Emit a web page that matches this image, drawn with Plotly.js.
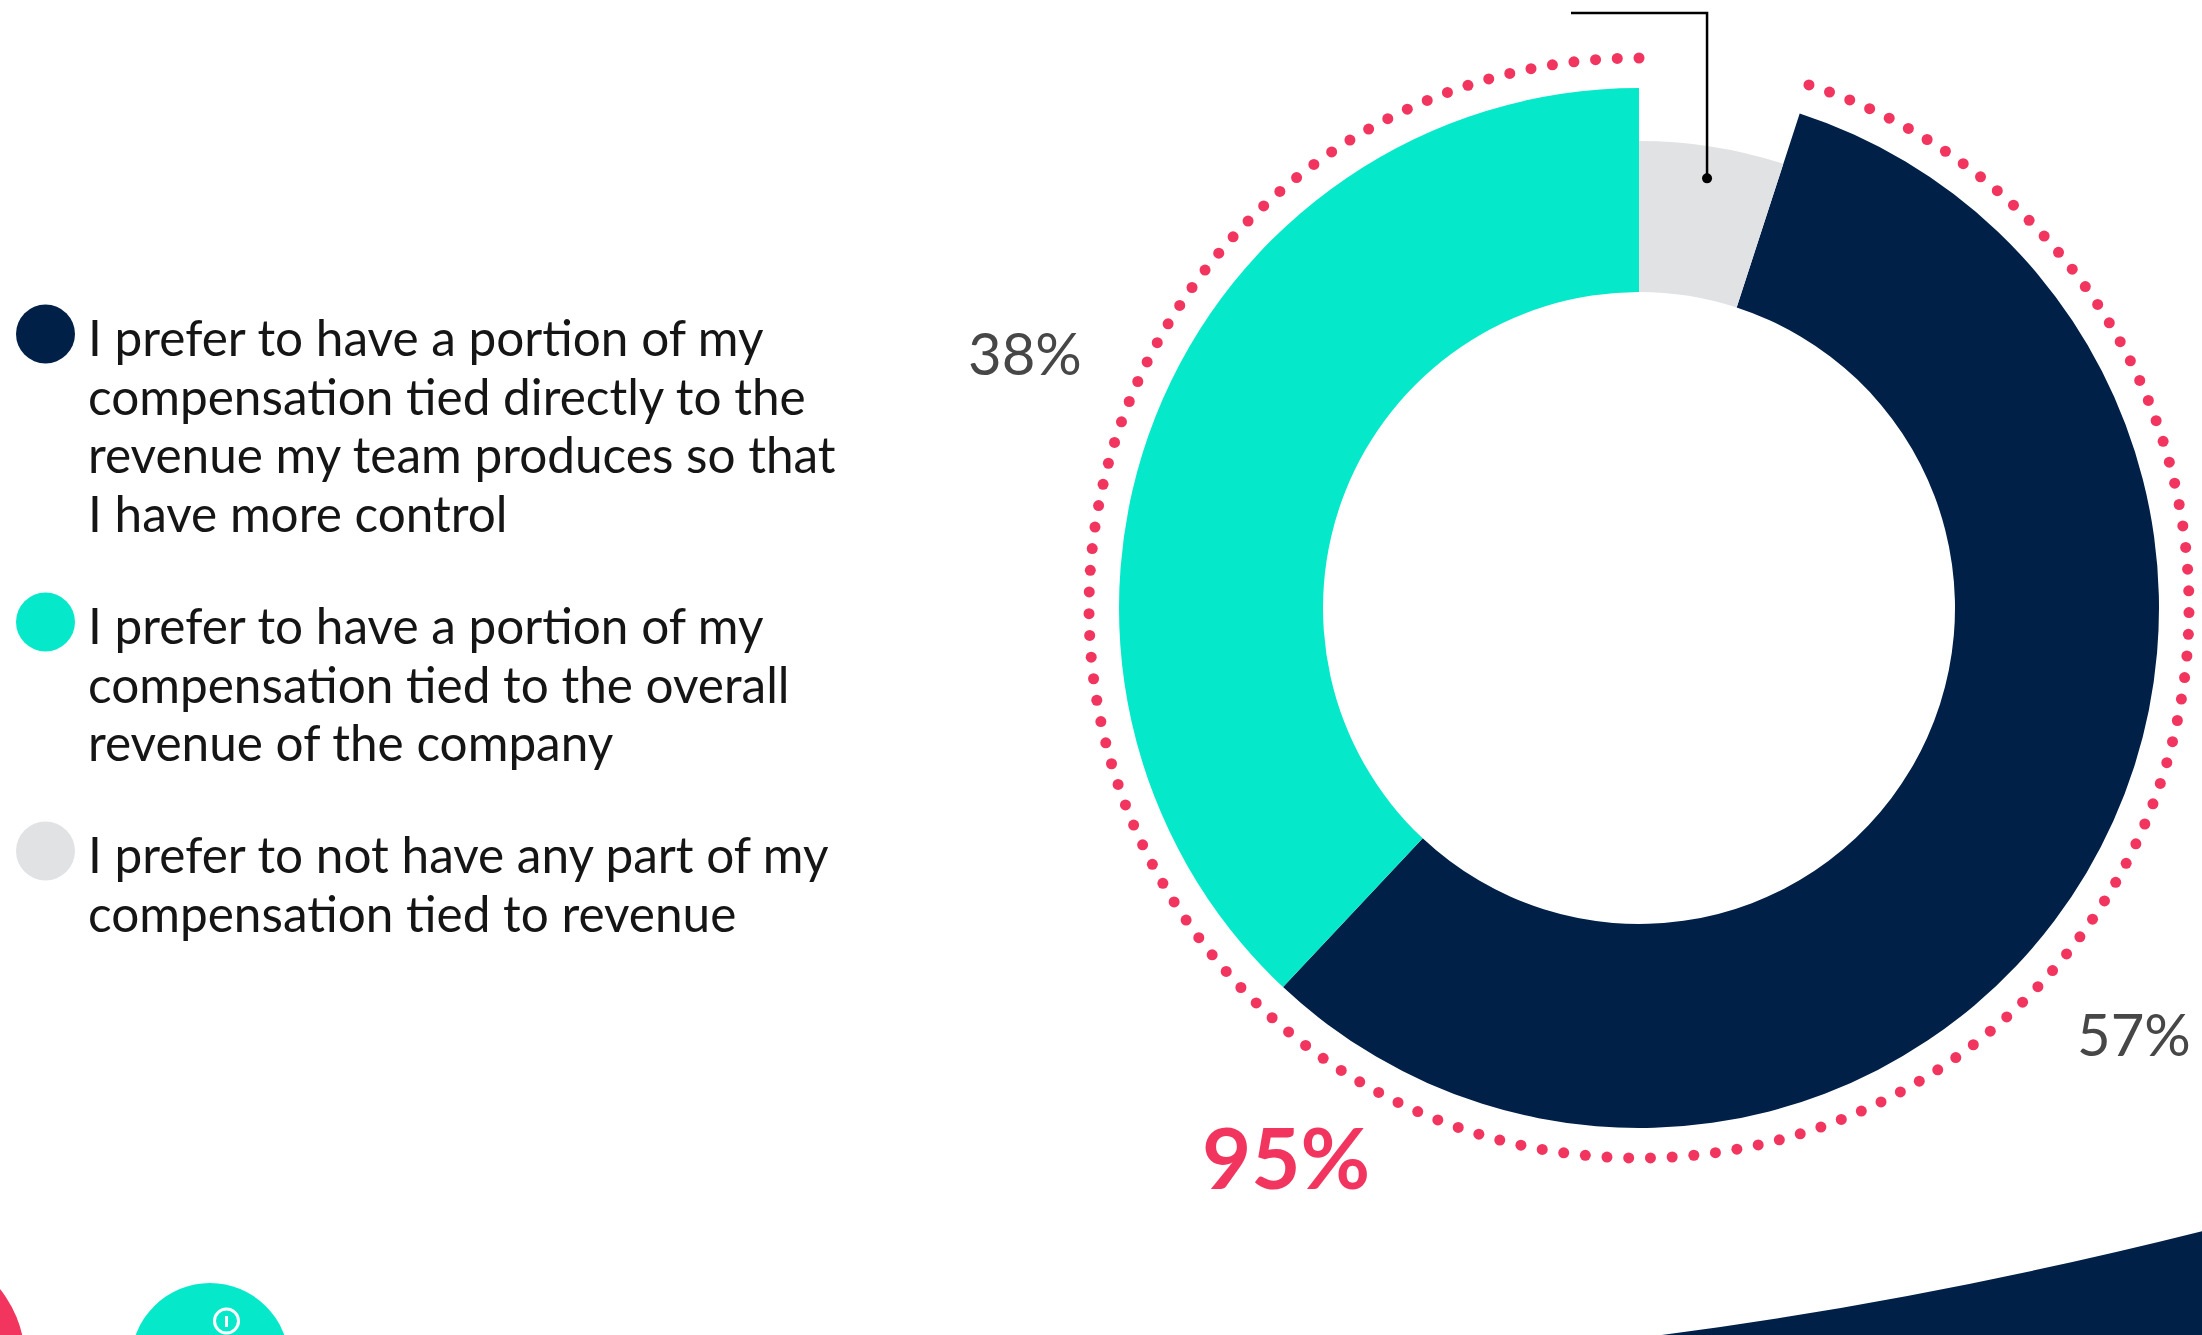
<!DOCTYPE html>
<html>
<head>
<meta charset="utf-8">
<script src="https://cdn.plot.ly/plotly-3.0.1.min.js"></script>
<style>
  html, body { margin: 0; padding: 0; background: #ffffff; }
  #chart { width: 2202px; height: 1335px; }
</style>
</head>
<body>
<div id="chart"></div>
<script>
// ---------------- data ----------------
const categories = [
  "I prefer to not have any part of my compensation tied to revenue",
  "I prefer to have a portion of my compensation tied directly to the revenue my team produces so that I have more control",
  "I prefer to have a portion of my compensation tied to the overall revenue of the company"
];
const shortNames = ["No revenue tie", "Tied to team revenue", "Tied to company revenue"];
const values = [5, 57, 38];
const sliceColors = ["#E1E2E4", "#002048", "#05E9CA"];
// legend text, wrapped as in the reference (order: navy, teal, gray)
const legendOrder = [1, 2, 0];
const legendLines = [
  ["I prefer to have a portion of my", "compensation tied directly to the", "revenue my team produces so that", "I have more control"],
  ["I prefer to have a portion of my", "compensation tied to the overall", "revenue of the company"],
  ["I prefer to not have any part of my", "compensation tied to revenue"]
];

// ---------------- geometry / style ----------------
const W = 2202, H = 1335;
const cx = 1639, cy = 608;
const rOuter = 520, rInner = 316, rGray = 467, rDots = 550, rLeader = 435;
const pink = "#F2355F";
const total = values.reduce((a, b) => a + b, 0);

function domX(r) { return [(cx - r) / W, (cx + r) / W]; }
function domY(r) { return [(H - cy - r) / H, (H - cy + r) / H]; }

const traces = [];

// main ring (navy + teal), gray slot left empty
traces.push({
  type: "pie",
  labels: shortNames,
  values: values,
  marker: { colors: sliceColors.map((c, i) => i === 0 ? "rgba(0,0,0,0)" : c), line: { width: 0 } },
  hole: rInner / rOuter,
  sort: false,
  direction: "clockwise",
  rotation: 0,
  textinfo: "none",
  hoverinfo: "label+percent",
  showlegend: false,
  domain: { x: domX(rOuter), y: domY(rOuter) }
});
// shorter gray slice
traces.push({
  type: "pie",
  labels: shortNames,
  values: values,
  marker: { colors: sliceColors.map((c, i) => i === 0 ? c : "rgba(0,0,0,0)"), line: { width: 0 } },
  hole: rInner / rGray,
  sort: false,
  direction: "clockwise",
  rotation: 0,
  textinfo: "none",
  hoverinfo: "skip",
  showlegend: false,
  domain: { x: domX(rGray), y: domY(rGray) }
});

// dotted arc around the 95% (navy + teal)
const startDeg = values[0] / total * 360;
const dotStepPx = 21.7;
const nDots = Math.round((360 - startDeg) * Math.PI / 180 * rDots / dotStepPx) + 1;
const dotTheta = [], dotR = [];
for (let i = 0; i < nDots; i++) {
  dotTheta.push(startDeg + (360 - startDeg) * i / (nDots - 1));
  dotR.push(rDots);
}
traces.push({
  type: "scatterpolar",
  subplot: "polar",
  r: dotR,
  theta: dotTheta,
  mode: "markers",
  marker: { size: 11, color: pink },
  hoverinfo: "skip",
  showlegend: false,
  cliponaxis: false
});

// invisible anchor trace for the pixel-space cartesian axes
traces.push({
  type: "scatter", x: [0, W], y: [0, H], mode: "markers",
  marker: { opacity: 0 }, hoverinfo: "skip", showlegend: false
});

// ---------------- shapes / annotations ----------------
const shapes = [];
const annotations = [];

// leader line to the gray slice (drawn above the pie)
const midA = (values[0] / 2 / total) * 2 * Math.PI;
const lx = cx + rLeader * Math.sin(midA);
const ly = cy - rLeader * Math.cos(midA);
shapes.push({
  type: "path", xref: "x", yref: "y", layer: "above",
  path: `M 1571 13 L ${lx} 13 L ${lx} ${ly}`,
  line: { color: "#000000", width: 2.5 }
});
shapes.push({
  type: "circle", xref: "x", yref: "y", layer: "above",
  x0: lx - 5, x1: lx + 5, y0: ly - 5, y1: ly + 5,
  fillcolor: "#000000", line: { width: 0 }
});

// legend
const legendCircleY = [334, 622, 851];
const legendLineY = [[337, 396, 454, 513], [625, 684, 742], [854, 913]];
legendOrder.forEach((idx, k) => {
  shapes.push({
    type: "circle", xref: "x", yref: "y",
    x0: 45.5 - 29.5, x1: 45.5 + 29.5, y0: legendCircleY[k] - 29.5, y1: legendCircleY[k] + 29.5,
    fillcolor: sliceColors[idx], line: { width: 0 }
  });
  legendLines[k].forEach((t, j) => {
    annotations.push({
      xref: "x", yref: "y", x: 86, y: legendLineY[k][j],
      xanchor: "left", yanchor: "middle", showarrow: false,
      text: t, font: { family: "Lato, 'Noto Sans', sans-serif", size: 49.5, color: "#151515" }
    });
  });
});

// percentage labels
const pctFont = { family: "Lato, 'Noto Sans', sans-serif", size: 58, color: "#474747" };
annotations.push({ xref: "x", yref: "y", x: 1025, y: 352, xanchor: "center", yanchor: "middle", showarrow: false,
  text: values[2] + "%", font: pctFont });
annotations.push({ xref: "x", yref: "y", x: 2134, y: 1033, xanchor: "center", yanchor: "middle", showarrow: false,
  text: values[1] + "%", font: pctFont });
annotations.push({ xref: "x", yref: "y", x: 1286, y: 1156, xanchor: "center", yanchor: "middle", showarrow: false,
  text: "<b>" + (values[1] + values[2]) + "%</b>",
  font: { family: "Lato, 'Noto Sans', sans-serif", size: 85, color: pink } });

// bottom decorations
shapes.push({ type: "circle", xref: "x", yref: "y", x0: -88 - 113, x1: -88 + 113, y0: 1360 - 113, y1: 1360 + 113,
  fillcolor: pink, line: { width: 0 } });
shapes.push({ type: "circle", xref: "x", yref: "y", x0: 210 - 79, x1: 210 + 79, y0: 1362 - 79, y1: 1362 + 79,
  fillcolor: "#05E9CA", line: { width: 0 } });
shapes.push({ type: "circle", xref: "x", yref: "y", x0: 226.5 - 12, x1: 226.5 + 12, y0: 1321 - 12, y1: 1321 + 12,
  fillcolor: "rgba(0,0,0,0)", line: { color: "#ffffff", width: 3 } });
shapes.push({ type: "line", xref: "x", yref: "y", x0: 226.5, x1: 226.5, y0: 1316, y1: 1327,
  line: { color: "#ffffff", width: 3 } });
shapes.push({ type: "path", xref: "x", yref: "y",
  path: "M 1654 1336 Q 1920 1302 2203 1231 L 2203 1336 Z",
  fillcolor: "#002048", line: { width: 0 } });

const layout = {
  width: W, height: H,
  margin: { l: 0, r: 0, t: 0, b: 0, pad: 0 },
  paper_bgcolor: "#ffffff",
  plot_bgcolor: "rgba(0,0,0,0)",
  showlegend: false,
  xaxis: { range: [0, W], visible: false, fixedrange: true, domain: [0, 1] },
  yaxis: { range: [H, 0], visible: false, fixedrange: true, domain: [0, 1] },
  polar: {
    domain: { x: domX(560), y: domY(560) },
    bgcolor: "rgba(0,0,0,0)",
    radialaxis: { visible: false, range: [0, 560], showgrid: false },
    angularaxis: { visible: false, direction: "clockwise", rotation: 90, showgrid: false }
  },
  shapes: shapes,
  annotations: annotations
};

Plotly.newPlot("chart", traces, layout, { displayModeBar: false, staticPlot: true });
</script>
</body>
</html>
